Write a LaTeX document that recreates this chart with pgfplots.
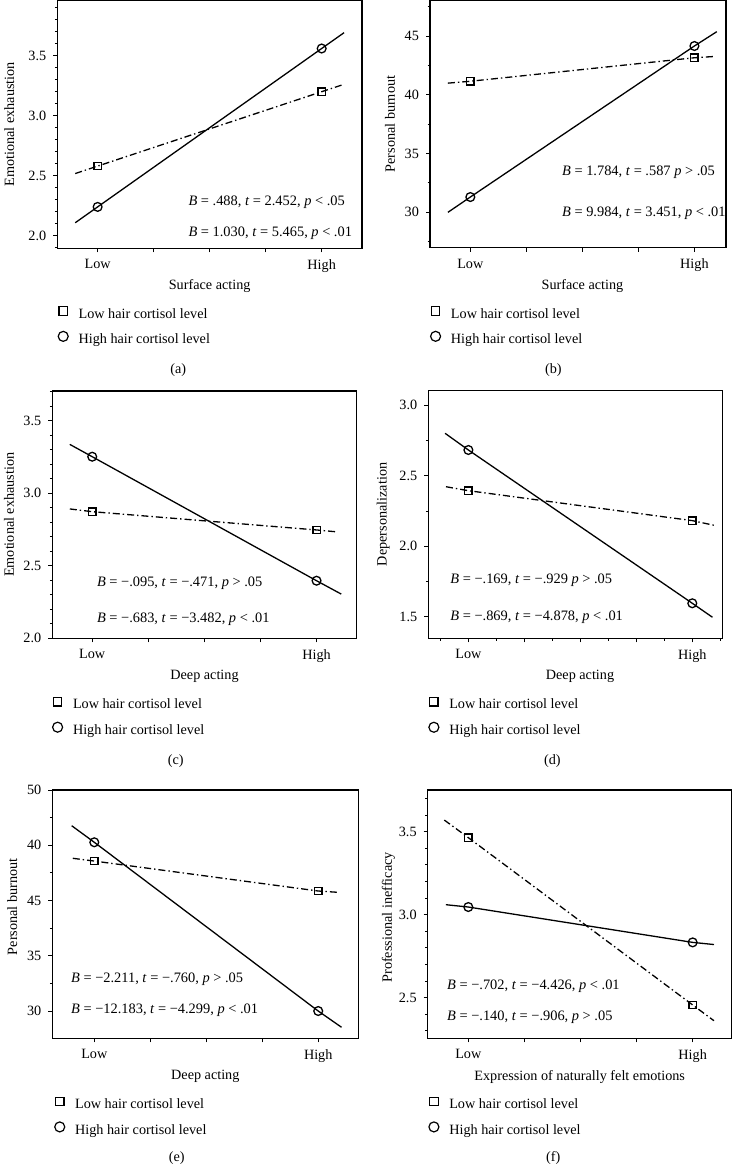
\documentclass[border=0pt]{standalone}
\usepackage{fontspec}
\setmainfont{Liberation Serif}
\usepackage{pgfplots}
\pgfplotsset{compat=1.18}

\tikzset{ann/.style={anchor=west, inner sep=0pt, font=\fontsize{7.2}{8.4}\selectfont}}
\pgfplotsset{
 panel/.style={
  scale only axis, anchor=south west,
  font=\fontsize{7.1}{8.4}\selectfont,
  axis line style={black, line width=0.6pt},
  every tick/.style={black, line width=0.5pt},
  major tick length=2pt, minor tick length=1.2pt,
  tick align=outside, xtick pos=bottom, ytick pos=left,
  xtick={0,0.25,0.5,0.75,1}, xticklabels={Low,,,,High},
  /pgf/number format/assume math mode=true,
  xlabel style={anchor=center},
  ylabel style={anchor=center},
  legend cell align=left,
  legend style={draw=none, fill=none, inner sep=0pt, outer sep=0pt, anchor=west,
    row sep=5.15pt, font=\fontsize{7.1}{8.4}\selectfont,
    nodes={inner sep=0pt, text height=5pt, text depth=1.5pt},
    /tikz/every odd column/.append style={column sep=5.2pt}},
  legend image code/.code={\draw[##1] plot coordinates {(0pt,1.8pt)};},
  clip=false,
 },
 dec/.style={y tick label style={/pgf/number format/.cd, fixed, fixed zerofill, precision=1, /tikz/.cd}},
 lowline/.style={black, line width=0.65pt, dash pattern=on 3.5pt off 1.5pt on 0.7pt off 1.5pt,
   mark=square, mark size=1.85pt, mark options={solid}, mark indices={2,3}, forget plot},
 highline/.style={black, line width=0.65pt, solid, mark=o, mark size=2.2pt,
   mark options={solid}, mark indices={2,3}, forget plot},
}
\newcommand{\legs}{%
 \addlegendimage{black, line width=0.6pt, mark=square, mark size=2.1pt}
 \addlegendentry{Low hair cortisol level}
 \addlegendimage{black, line width=0.6pt, mark=o, mark size=2.5pt}
 \addlegendentry{High hair cortisol level}}

\begin{document}
\begin{tikzpicture}
\path[use as bounding box] (0pt,0pt) rectangle (367.5pt,-584pt);

% (a)
\begin{axis}[panel, dec, at={(28.65pt,-124.15pt)}, width=152.35pt, height=123.9pt,
 xmin=-0.18, xmax=1.18, ymin=1.895, ymax=3.96,
 ytick={2,2.5,3,3.5}, minor ytick={1.9,2.1,2.2,2.3,2.4,2.6,2.7,2.8,2.9,3.1,3.2,3.3,3.4,3.6,3.7,3.8,3.9},
 xlabel={Surface acting}, xlabel style={at={(axis description cs:0.5,-0.151)}},
 ylabel={Emotional exhaustion}, ylabel style={at={(axis description cs:-0.158,0.5)}},
 legend style={at={(axis description cs:0.003,-0.316)}}]
\addplot[lowline] coordinates {(-0.1,2.518) (0,2.58) (1,3.20) (1.1,3.262)};
\addplot[highline] coordinates {(-0.1,2.108) (0,2.24) (1,3.56) (1.1,3.692)};
\legs
\node[ann] at (axis cs:0.404,2.275) {\textit{B} = .488, \textit{t} = 2.452, \textit{p} < .05};
\node[ann] at (axis cs:0.404,2.02) {\textit{B} = 1.030, \textit{t} = 5.465, \textit{p} < .01};
\end{axis}

% (b)
\begin{axis}[panel, at={(215pt,-123.85pt)}, width=148pt, height=123.6pt,
 xmin=-0.18, xmax=1.141, ymin=26.99, ymax=48.02,
 ytick={30,35,40,45}, minor ytick={27.5,32.5,37.5,42.5,47.5},
 xlabel={Surface acting}, xlabel style={at={(axis description cs:0.515,-0.154)}},
 ylabel={Personal burnout}, ylabel style={at={(axis description cs:-0.135,0.5)}},
 legend style={at={(axis description cs:0.002,-0.319)}}]
\addplot[lowline] coordinates {(-0.1,40.99) (0,41.15) (1,43.15) (1.09,43.26)};
\addplot[highline] coordinates {(-0.1,30.0) (0,31.3) (1,44.15) (1.1,45.37)};
\legs
\node[ann] at (axis cs:0.408,33.45) {\textit{B} = 1.784, \textit{t} = .587 \textit{p} > .05};
\node[ann] at (axis cs:0.408,29.92) {\textit{B} = 9.984, \textit{t} = 3.451, \textit{p} < .01};
\end{axis}

% (c)
\begin{axis}[panel, dec, at={(26.15pt,-319.15pt)}, width=152.2pt, height=123.65pt,
 xmin=-0.178, xmax=1.179, ymin=2.0, ymax=3.705,
 ytick={2,2.5,3,3.5}, minor ytick={2.1,2.2,2.3,2.4,2.6,2.7,2.8,2.9,3.1,3.2,3.3,3.4,3.6,3.7},
 xlabel={Deep acting}, xlabel style={at={(axis description cs:0.5,-0.155)}},
 ylabel={Emotional exhaustion}, ylabel style={at={(axis description cs:-0.142,0.5)}},
 legend style={at={(axis description cs:0.001,-0.320)}}]
\addplot[lowline] coordinates {(-0.1,2.892) (0,2.873) (1,2.747) (1.09,2.734)};
\addplot[highline] coordinates {(-0.1,3.337) (0,3.252) (1,2.397) (1.11,2.305)};
\legs
\node[ann] at (axis cs:0.0196,2.383) {\textit{B} = −.095, \textit{t} = −.471, \textit{p} > .05};
\node[ann] at (axis cs:0.0196,2.130) {\textit{B} = −.683, \textit{t} = −3.482, \textit{p} < .01};
\end{axis}

% (d)
\begin{axis}[panel, dec, at={(214.15pt,-319.15pt)}, width=147pt, height=123.9pt,
 xmin=-0.179, xmax=1.134, ymin=1.349, ymax=3.103,
 ytick={1.5,2,2.5,3}, minor ytick={1.75,2.25,2.75},
 minor xtick={-0.125,0.125,0.375,0.625,0.875,1.125},
 xlabel={Deep acting}, xlabel style={at={(axis description cs:0.516,-0.155)}},
 ylabel={Depersonalization}, ylabel style={at={(axis description cs:-0.153,0.5)}},
 legend style={at={(axis description cs:0.002,-0.3196)}}]
\addplot[lowline] coordinates {(-0.1,2.422) (0,2.394) (1,2.182) (1.106,2.146)};
\addplot[highline] coordinates {(-0.104,2.80) (0,2.682) (1,1.597) (1.09,1.498)};
\legs
\node[ann] at (axis cs:-0.082,1.761) {\textit{B} = −.169, \textit{t} = −.929 \textit{p} > .05};
\node[ann] at (axis cs:-0.082,1.498) {\textit{B} = −.869, \textit{t} = −4.878, \textit{p} < .01};
\end{axis}

% (e)
\begin{axis}[panel, at={(26.15pt,-519.15pt)}, width=153pt, height=124.15pt,
 xmin=-0.1875, xmax=1.179, ymin=27.53, ymax=50,
 ytick={30,35,40,45,50}, yticklabels={30,35,45,40,50}, minor ytick={32.5,37.5,42.5,47.5},
 xlabel={Deep acting}, xlabel style={at={(axis description cs:0.5,-0.1547)}},
 ylabel={Personal burnout}, ylabel style={at={(axis description cs:-0.1307,0.53)}},
 legend style={at={(axis description cs:0.008,-0.3176)}}]
\addplot[lowline] coordinates {(-0.096,43.82) (0,43.57) (1,40.86) (1.089,40.74)};
\addplot[highline] coordinates {(-0.101,46.77) (0,45.27) (1,30.0) (1.104,28.53)};
\legs
\node[ann] at (axis cs:-0.105,32.87) {\textit{B} = −2.211, \textit{t} = −.760, \textit{p} > .05};
\node[ann] at (axis cs:-0.105,30.03) {\textit{B} = −12.183, \textit{t} = −4.299, \textit{p} < .01};
\end{axis}

% (f)
\begin{axis}[panel, dec, at={(213.85pt,-519.15pt)}, width=152pt, height=124.15pt,
 xmin=-0.181, xmax=1.174, ymin=2.255, ymax=3.751,
 ytick={2.5,3,3.5}, minor ytick={2.3,2.4,2.6,2.7,2.8,2.9,3.1,3.2,3.3,3.4,3.6,3.7},
 xlabel={Expression of naturally felt emotions}, xlabel style={at={(axis description cs:0.5,-0.1547)}},
 ylabel={Professional inefficacy}, ylabel style={at={(axis description cs:-0.1296,0.487)}},
 legend style={at={(axis description cs:0.004,-0.3176)}}]
\addplot[lowline] coordinates {(-0.107,3.57) (0,3.464) (1,2.456) (1.095,2.361)};
\addplot[highline] coordinates {(-0.10,3.06) (0,3.046) (1,2.833) (1.095,2.82)};
\legs
\node[ann] at (axis cs:-0.096,2.566) {\textit{B} = −.702, \textit{t} = −4.426, \textit{p} < .01};
\node[ann] at (axis cs:-0.096,2.382) {\textit{B} = −.140, \textit{t} = −.906, \textit{p} > .05};
\end{axis}

\begin{scope}[font=\fontsize{7.1}{8.4}\selectfont]
\node at (89.15pt,-185pt) {(a)};
\node at (276.65pt,-185pt) {(b)};
\node at (87.85pt,-380.35pt) {(c)};
\node at (276.15pt,-380.35pt) {(d)};
\node at (88.35pt,-579.15pt) {(e)};
\node at (276.65pt,-579.15pt) {(f)};
\end{scope}
\end{tikzpicture}
\end{document}
